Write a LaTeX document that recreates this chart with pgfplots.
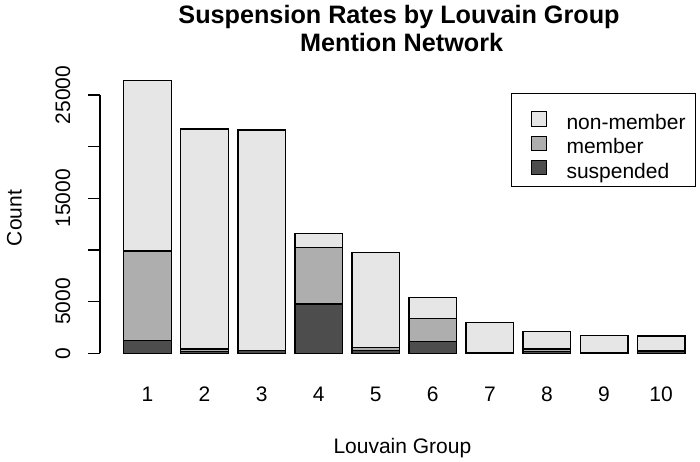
\documentclass[border=0pt]{standalone}
\usepackage{fontspec}
\setmainfont{Liberation Sans}
\usepackage{pgfplots}
\pgfplotsset{compat=1.18}
\definecolor{csusp}{HTML}{4D4D4D}
\definecolor{cmem}{HTML}{AEAEAE}
\definecolor{cnon}{HTML}{E6E6E6}
\begin{document}
\begin{tikzpicture}[font=\fontsize{10.5pt}{12.6pt}\selectfont]
\useasboundingbox (-50pt,-53.85pt) rectangle (300pt,176.65pt);
\begin{axis}[
  at={(0pt,0pt)}, anchor=south west,
  scale only axis, width=295.1pt, height=129.17pt,
  xmin=0.168, xmax=10.51, ymin=0, ymax=25000,
  clip=false,
  ybar stacked, bar width=0.8333,
  axis y line*=left, axis x line*=bottom,
  x axis line style={draw=none},
  y axis line style={line width=0.6pt,-},
  xtick={1,...,10},
  x tick style={draw=none},
  xticklabel style={anchor=base, yshift=-18pt},
  ytick={0,5000,10000,15000,20000,25000},
  yticklabels={0,5000,,15000,,25000},
  scaled y ticks=false,
  y tick style={line width=0.6pt, black},
  tick align=outside, major tick length=5.85pt,
  yticklabel style={xshift=-9.15pt, rotate=90, anchor=base},
  /pgf/number format/assume math mode=true,
  every axis plot/.append style={draw=black, line width=0.7pt},
  reverse legend,
  legend style={at={(0.7298,0.9379)}, anchor=north west, draw=none, fill=none,
    inner xsep=0pt, inner ysep=0pt, column sep=10pt, row sep=0.8pt,
    nodes={inner sep=0pt, text height=7.5pt, text depth=2.2pt, anchor=west},
    font=\fontsize{10.5pt}{12.6pt}\selectfont},
  legend cell align=left,
  legend image code/.code={\draw[#1, line width=0.5pt] (0pt,-1pt) rectangle (7.2pt,6.2pt);},
]
\addplot[fill=csusp] coordinates {(1,1220) (2,190) (3,250) (4,4770) (5,250) (6,1160) (7,50) (8,150) (9,20) (10,200)};
\addlegendentry{suspended}
\addplot[fill=cmem] coordinates {(1,8680) (2,230) (3,40) (4,5450) (5,330) (6,2230) (7,50) (8,270) (9,30) (10,30)};
\addlegendentry{member}
\addplot[fill=cnon] coordinates {(1,16480) (2,21290) (3,21320) (4,1355) (5,9195) (6,2030) (7,2860) (8,1710) (9,1690) (10,1445)};
\addlegendentry{non-member}
\end{axis}
\draw[line width=0.5pt] (205.85pt,83.3pt) rectangle (297.5pt,130pt);
\node[anchor=base, font=\fontsize{12.6pt}{15pt}\selectfont\bfseries] at (149.5pt,164.65pt) {Suspension Rates by Louvain Group};
\node[anchor=base, font=\fontsize{12.6pt}{15pt}\selectfont\bfseries] at (150.8pt,150.8pt) {Mention Network};
\node[anchor=base] at (151.2pt,-49.85pt) {Louvain Group};
\node[anchor=base, rotate=90] at (-39.15pt,67.65pt) {Count};
\end{tikzpicture}
\end{document}
